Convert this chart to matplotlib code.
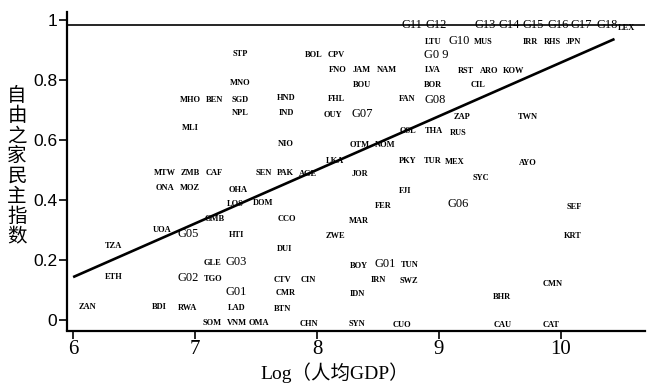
import matplotlib
matplotlib.use("Agg")
import matplotlib.pyplot as plt

# ---- data ----
# country codes (small bold labels): name, log GDP per capita, democracy index
codes = ["LEX", "LTU", "MUS", "IRR", "RHS", "JPN",
         "STP", "BOL", "CPV", "FNO", "JAM", "NAM", "LVA", "RST", "ARO", "KOW",
         "MNO", "BOU", "BOR", "CIL",
         "MHO", "BEN", "SGD", "HND", "FHL", "FAN",
         "NPL", "IND", "OUY", "ZAP", "TWN",
         "MLI", "OSL", "THA", "RUS",
         "NIO", "OTM", "NOM",
         "LKA", "PKY", "TUR", "MEX", "AYO",
         "MTW", "ZMB", "CAF", "SEN", "PAK", "AGE", "JOR", "SYC",
         "ONA", "MOZ", "OHA", "FJI",
         "LOS", "DOM", "FER", "SEF",
         "GMB", "CCO", "MAR",
         "UOA", "HTI", "ZWE", "KRT",
         "TZA", "DUI",
         "GLE", "BOY", "TUN",
         "ETH", "TGO", "CTV", "CIN", "IRN", "SWZ", "CMN",
         "CMR", "IDN", "BHR",
         "ZAN", "BDI", "RWA", "LAD", "BTN",
         "SOM", "VNM", "OMA", "CHN", "SYN", "CUO", "CAU", "CAT"]
code_x = [10.54, 8.95, 9.36, 9.75, 9.93, 10.10,
          7.37, 7.97, 8.16, 8.17, 8.37, 8.57, 8.95, 9.22, 9.41, 9.61,
          7.37, 8.37, 8.95, 9.32,
          6.96, 7.16, 7.37, 7.75, 8.16, 8.74,
          7.37, 7.75, 8.13, 9.19, 9.73,
          6.96, 8.75, 8.96, 9.16,
          7.74, 8.35, 8.56,
          8.15, 8.74, 8.95, 9.13, 9.73,
          6.75, 6.96, 7.16, 7.56, 7.74, 7.93, 8.35, 9.34,
          6.75, 6.96, 7.35, 8.72,
          7.33, 7.56, 8.54, 10.11,
          7.16, 7.75, 8.34,
          6.73, 7.34, 8.15, 10.10,
          6.33, 7.73,
          7.14, 8.34, 8.76,
          6.33, 7.15, 7.72, 7.93, 8.50, 8.75, 9.93,
          7.74, 8.33, 9.52,
          6.12, 6.71, 6.94, 7.34, 7.72,
          7.14, 7.34, 7.52, 7.93, 8.33, 8.70, 9.52, 9.92]
code_y = [0.975, 0.927, 0.927, 0.927, 0.927, 0.927,
          0.887, 0.883, 0.883, 0.833, 0.833, 0.833, 0.833, 0.830, 0.830, 0.830,
          0.790, 0.783, 0.783, 0.783,
          0.733, 0.733, 0.733, 0.740, 0.737, 0.737,
          0.690, 0.690, 0.683, 0.677, 0.677,
          0.640, 0.630, 0.630, 0.623,
          0.587, 0.583, 0.583,
          0.530, 0.530, 0.530, 0.527, 0.523,
          0.490, 0.490, 0.490, 0.490, 0.490, 0.487, 0.487, 0.473,
          0.440, 0.440, 0.433, 0.430,
          0.387, 0.390, 0.380, 0.377,
          0.337, 0.337, 0.330,
          0.300, 0.283, 0.280, 0.280,
          0.247, 0.237,
          0.190, 0.180, 0.183,
          0.143, 0.137, 0.133, 0.133, 0.133, 0.130, 0.120,
          0.090, 0.087, 0.077,
          0.043, 0.043, 0.040, 0.040, 0.037,
          -0.010, -0.010, -0.010, -0.012, -0.013, -0.015, -0.017, -0.018]

# group labels (larger text)
groups = ["G11", "G12", "G13", "G14", "G15", "G16", "G17", "G18",
          "G10", "G0 9", "G08", "G07", "G06", "G05", "G03", "G01", "G02", "G01"]
group_x = [8.78, 8.98, 9.38, 9.58, 9.77, 9.98, 10.17, 10.38,
           9.17, 8.98, 8.97, 8.37, 9.16, 6.94, 7.34, 8.56, 6.94, 7.34]
group_y = [0.985, 0.985, 0.985, 0.985, 0.985, 0.985, 0.985, 0.985,
           0.930, 0.883, 0.733, 0.687, 0.387, 0.287, 0.193, 0.187, 0.140, 0.093]

# fitted regression line end points
fit_x = [6.0, 10.44]
fit_y = [0.143, 0.937]

xticks = [6, 7, 8, 9, 10]
yticks = [0, 0.2, 0.4, 0.6, 0.8, 1]
ytick_labels = ["0", "0.2", "0.4", "0.6", "0.8", "1"]

# ---- figure ----
fig = plt.figure(figsize=(6.47, 3.86), dpi=100)
ax = fig.add_axes([67 / 647, (386 - 330.5) / 386, 578 / 647, 318.5 / 386])
ax.set_xlim(5.95, 10.69)
ax.set_ylim(-0.035, 1.027)

for s in ["top", "right"]:
    ax.spines[s].set_visible(False)
for s in ["left", "bottom"]:
    ax.spines[s].set_linewidth(1.6)

ax.axhline(0.985, color="black", lw=1.2)
ax.plot(fit_x, fit_y, color="black", lw=1.9, solid_capstyle="butt")

for name, x, y in zip(codes, code_x, code_y):
    ax.text(x, y, name, fontsize=6, fontweight="bold", family="Liberation Serif",
            ha="center", va="center", color="black")
for name, x, y in zip(groups, group_x, group_y):
    ax.text(x, y, name, fontsize=9, family="Liberation Serif",
            ha="center", va="center", color="black")

ax.set_xticks(xticks)
ax.set_xticklabels([str(t) for t in xticks], family="Liberation Serif", fontsize=15)
ax.set_yticks(yticks)
ax.set_yticklabels(ytick_labels, family="Liberation Sans", fontsize=12.5)
ax.tick_params(axis="both", direction="out", length=6, width=1.2, color="black")
ax.tick_params(axis="x", pad=1)
ax.tick_params(axis="y", pad=1)

fig.text(335 / 647, 1 - 373 / 386, "Log（人均GDP）", ha="center", va="center",
         fontsize=14, family=["Liberation Serif", "Noto Sans CJK SC"])
fig.text(17 / 647, 1 - 166 / 386, "\n".join("自由之家民主指数"), ha="center",
         va="center", fontsize=14, family=["Noto Sans CJK SC"], linespacing=0.95)

fig.savefig("out.png", dpi=100)
